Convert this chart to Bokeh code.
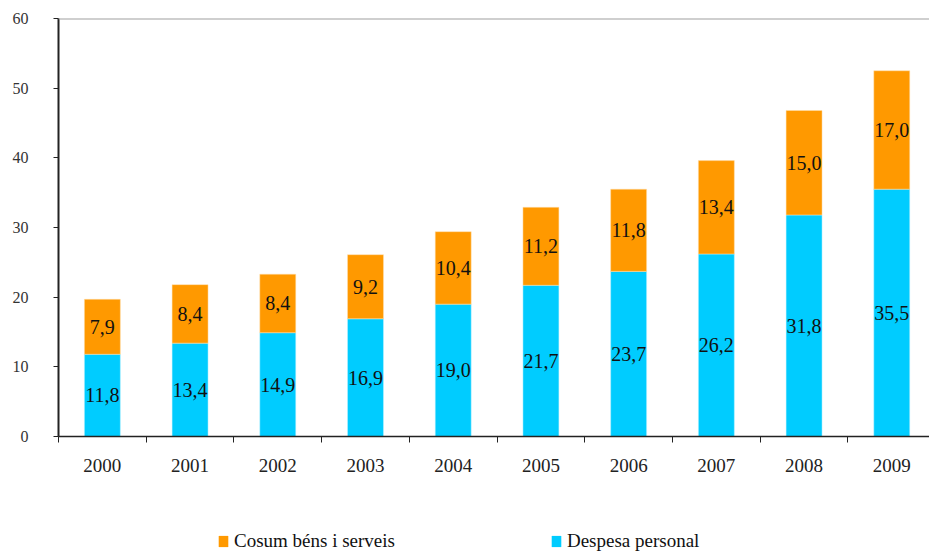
from bokeh.plotting import figure
from bokeh.layouts import column
from bokeh.models import (ColumnDataSource, FixedTicker, Legend, LegendItem, Span,
                          LabelSet, Range1d)
from bokeh.embed import file_html
from bokeh.resources import INLINE
from bokeh.core.properties import value

# ---- data ----
years = ["2000", "2001", "2002", "2003", "2004", "2005", "2006", "2007", "2008", "2009"]
despesa_personal = [11.8, 13.4, 14.9, 16.9, 19.0, 21.7, 23.7, 26.2, 31.8, 35.5]
cosum_bens = [7.9, 8.4, 8.4, 9.2, 10.4, 11.2, 11.8, 13.4, 15.0, 17.0]
y_ticks = [0, 10, 20, 30, 40, 50, 60]
series_names = ["Cosum béns i serveis", "Despesa personal"]

ORANGE = "#FF9900"
CYAN = "#00CCFF"
SERIF = "Liberation Serif"

idx = list(range(len(years)))
fmt = lambda v: f"{v:.1f}".replace(".", ",")

src = ColumnDataSource(dict(
    x=idx,
    p_top=despesa_personal,
    p_mid=[v / 2 for v in despesa_personal],
    p_lab=[fmt(v) for v in despesa_personal],
    zero=[0] * len(idx),
    b_top=[a + b for a, b in zip(despesa_personal, cosum_bens)],
    b_mid=[a + b / 2 for a, b in zip(despesa_personal, cosum_bens)],
    b_lab=[fmt(v) for v in cosum_bens],
))

p = figure(width=929, height=496, output_backend="svg", toolbar_location=None,
           x_range=Range1d(-0.5, 9.43), y_range=Range1d(0, 60),
           min_border_left=58, min_border_right=0, min_border_top=18,
           min_border_bottom=60)
p.outline_line_color = None
p.xgrid.visible = False
p.ygrid.visible = False
p.background_fill_color = "white"
p.border_fill_color = "white"

r_p = p.vbar(x="x", bottom="zero", top="p_top", width=0.41, source=src,
             fill_color=CYAN, line_color="#bff2ff", line_width=0.5)
r_b = p.vbar(x="x", bottom="p_top", top="b_top", width=0.41, source=src,
             fill_color=ORANGE, line_color="#ffe0b0", line_width=0.5)

for col_y, col_t in (("p_mid", "p_lab"), ("b_mid", "b_lab")):
    p.add_layout(LabelSet(x="x", y=col_y, text=col_t, source=src,
                          text_align="center", text_baseline="middle",
                          text_font=value(SERIF), text_font_size="20px",
                          text_color="#111111"))

p.add_layout(Span(location=60, dimension="width", line_color="#a0a0a0", line_width=2))

# x axis
xa = p.xaxis[0]
xa.ticker = FixedTicker(ticks=idx, minor_ticks=[i - 0.5 for i in idx] + [9.5])
xa.major_label_overrides = {i: y for i, y in zip(idx, years)}
xa.major_tick_out = 0
xa.major_tick_in = 0
xa.minor_tick_out = 6
xa.minor_tick_in = 0
xa.minor_tick_line_color = "#222222"
xa.axis_line_color = "#222222"
xa.axis_line_width = 1.5
xa.major_label_text_font = SERIF
xa.major_label_text_font_size = "19px"
xa.major_label_text_color = "#222222"
xa.major_label_standoff = 16

# y axis
ya = p.yaxis[0]
ya.ticker = FixedTicker(ticks=y_ticks)
ya.major_tick_out = 5
ya.major_tick_in = 0
ya.minor_tick_line_color = None
ya.major_tick_line_color = "#222222"
ya.axis_line_color = "#222222"
ya.axis_line_width = 2
ya.major_label_text_font = SERIF
ya.major_label_text_font_size = "16px"
ya.major_label_text_color = "#333333"
ya.major_label_standoff = 25

# ---- legend strip below the chart ----
lg = figure(width=929, height=56, output_backend="svg", toolbar_location=None,
            x_range=Range1d(0, 1), y_range=Range1d(0, 1),
            x_axis_type=None, y_axis_type=None,
            min_border_left=0, min_border_right=0, min_border_top=0,
            min_border_bottom=0)
lg.outline_line_color = None
lg.xgrid.visible = False
lg.ygrid.visible = False
lg.background_fill_color = "white"
lg.border_fill_color = "white"
# zero-height swatch renderers (draw nothing in the strip, only feed the legend)
sw_b = lg.vbar(x="x", bottom="zero", top="zero", width=0.41, source=src,
               fill_color=ORANGE, line_color=None)
sw_p = lg.vbar(x="x", bottom="zero", top="zero", width=0.41, source=src,
               fill_color=CYAN, line_color=None)

legend = Legend(items=[LegendItem(label=series_names[0], renderers=[sw_b]),
                       LegendItem(label=series_names[1], renderers=[sw_p])],
                orientation="horizontal", location=(159, 0),
                glyph_width=12, glyph_height=14, label_standoff=5,
                spacing=155,
                padding=0, margin=0, border_line_color=None,
                background_fill_alpha=0,
                label_text_font=SERIF, label_text_font_size="19px",
                label_text_color="#111111")
lg.add_layout(legend, "center")

open("out.html", "w").write(file_html(column(p, lg, spacing=0), INLINE))
